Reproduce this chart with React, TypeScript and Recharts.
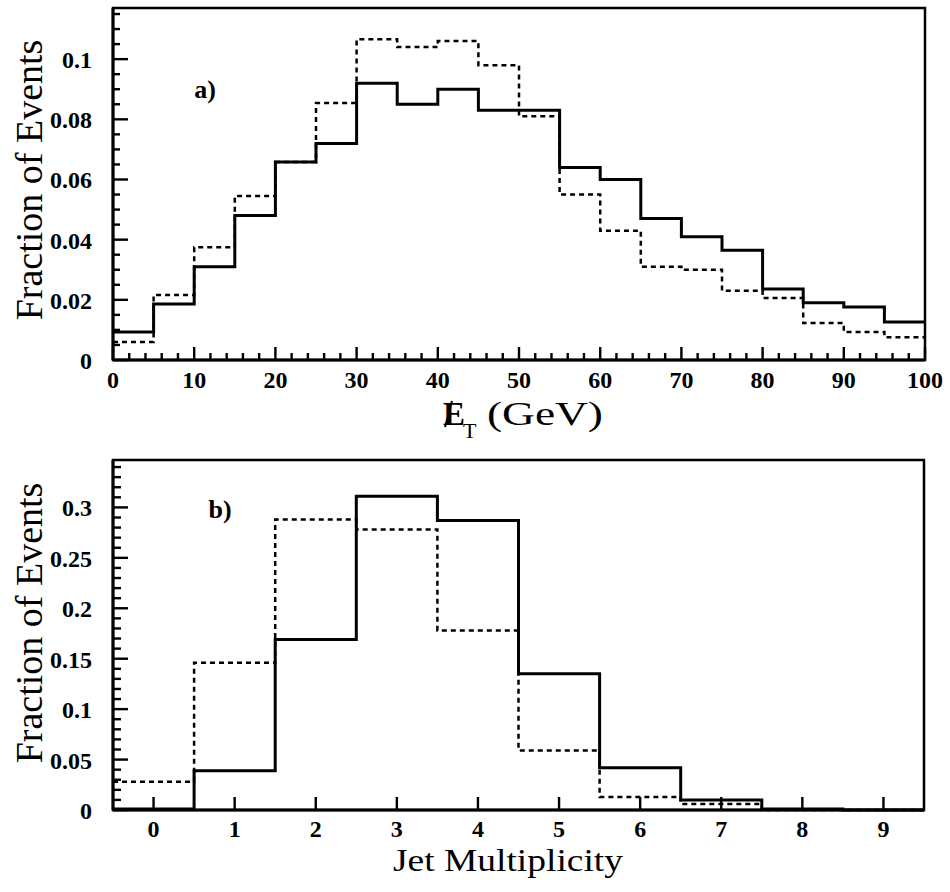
import React from 'react';
import { LineChart, Line, XAxis, YAxis, ReferenceArea } from 'recharts';

// ---------- Panel a) : missing ET ----------
const etBinLow = [0, 5, 10, 15, 20, 25, 30, 35, 40, 45, 50, 55, 60, 65, 70, 75, 80, 85, 90, 95];
const etBinHighLast = 100;
const etSolid = [0.0093, 0.0186, 0.031, 0.048, 0.0658, 0.072, 0.092, 0.085, 0.09, 0.083, 0.083, 0.064, 0.06, 0.047, 0.041, 0.0365, 0.0236, 0.019, 0.0176, 0.0126];
const etDashed = [0.006, 0.0216, 0.0375, 0.0545, 0.0658, 0.0854, 0.1066, 0.104, 0.106, 0.098, 0.081, 0.055, 0.043, 0.031, 0.03, 0.023, 0.0206, 0.0123, 0.0093, 0.0076];
const etXMajor = [0, 10, 20, 30, 40, 50, 60, 70, 80, 90, 100];
const etXMajorLabels = ['0', '10', '20', '30', '40', '50', '60', '70', '80', '90', '100'];
const etYMajor = [0, 0.02, 0.04, 0.06, 0.08, 0.1];
const etYMajorLabels = ['0', '0.02', '0.04', '0.06', '0.08', '0.1'];
const etXDomain = [0, 100];
const etYMax = 0.117;

// ---------- Panel b) : jet multiplicity ----------
const jetBins = [0, 1, 2, 3, 4, 5, 6, 7, 8, 9];
const jetSolid = [0.001, 0.039, 0.169, 0.311, 0.287, 0.135, 0.042, 0.01, 0.001, 0];
const jetDashed = [0.028, 0.146, 0.288, 0.278, 0.178, 0.059, 0.013, 0.006, 0, 0];
const jetXLabels = ['0', '1', '2', '3', '4', '5', '6', '7', '8', '9'];
const jetYMajor = [0, 0.05, 0.1, 0.15, 0.2, 0.25, 0.3];
const jetYMajorLabels = ['0', '0.05', '0.1', '0.15', '0.2', '0.25', '0.3'];
const jetXDomain = [-0.5, 9.5];
const jetYMax = 0.347;

const FONT = "'Liberation Serif', 'Times New Roman', serif";

const W = 950;
const TOP_H = 445;
const BOT_H = 447;
const AXIS_W = 40;
const AXIS_H = 30;
const topMargin = { top: 8, right: 25, bottom: 55, left: 73 };
const botMargin = { top: 15, right: 26, bottom: 52, left: 73 };

const makeTicks = (start: number, end: number, step: number) => {
  const out: number[] = [];
  const n = Math.round((end - start) / step);
  for (let i = 0; i <= n; i++) out.push(Math.round((start + i * step) * 10000) / 10000);
  return out;
};

const etData = [
  ...etBinLow.map((x, i) => ({ x, solid: etSolid[i], dashed: etDashed[i] })),
  { x: etBinHighLast, solid: etSolid[etSolid.length - 1], dashed: etDashed[etDashed.length - 1] },
];
const jetData = [
  ...jetBins.map((b, i) => ({ x: b - 0.5, solid: jetSolid[i], dashed: jetDashed[i] })),
  { x: jetBins[jetBins.length - 1] + 0.5, solid: jetSolid[jetSolid.length - 1], dashed: jetDashed[jetDashed.length - 1] },
];

const findIdx = (arr: number[], v: number) => arr.findIndex((m) => Math.abs(m - v) < 1e-6);

const TICK_COLOR = '#000';

const makeXTick = (majors: number[], labels: string[], majorLen: number, minorLen: number, dy: number) => (props: any) => {
  const { x, y, payload } = props;
  const idx = findIdx(majors, payload.value);
  const major = idx >= 0;
  const len = major ? majorLen : minorLen;
  return (
    <g>
      <rect x={x - 1.2} y={y - len} width={2.4} height={len} fill={TICK_COLOR} stroke="none" />
      {major && (
        <text x={x} y={y + dy} textAnchor="middle" fontFamily={FONT} fontWeight="bold" fontSize={24} fill="#000" stroke="none">
          {labels[idx]}
        </text>
      )}
    </g>
  );
};

const makeYTick = (majors: number[], labels: string[], majorLen: number, minorLen: number) => (props: any) => {
  const { x, y, payload } = props;
  const idx = findIdx(majors, payload.value);
  const major = idx >= 0;
  const len = major ? majorLen : minorLen;
  return (
    <g>
      <rect x={x} y={y - 1.2} width={len} height={2.4} fill={TICK_COLOR} stroke="none" />
      {major && (
        <text x={x - 21} y={y + 9} textAnchor="end" fontFamily={FONT} fontWeight="bold" fontSize={24} fill="#000" stroke="none">
          {labels[idx]}
        </text>
      )}
    </g>
  );
};

const etXTicks = makeTicks(0, 100, 2);
const etYTicks = makeTicks(0, 0.115, 0.005);
const jetXTicks = jetBins;
const jetYTicks = makeTicks(0, 0.34, 0.01);

const EtXTick = makeXTick(etXMajor, etXMajorLabels, 13, 7, 28);
const EtYTick = makeYTick(etYMajor, etYMajorLabels, 15, 7);
const JetXTick = makeXTick(jetBins, jetXLabels, 13, 13, 27);
const JetYTick = makeYTick(jetYMajor, jetYMajorLabels, 15, 8);

const axisLineStyle = { stroke: '#000', strokeWidth: 3 };

const Overlay = () => (
  <svg width={W} height={TOP_H + BOT_H} style={{ position: 'absolute', left: 0, top: 0, pointerEvents: 'none' }}>
    <text x={42} y={180} transform="rotate(-90, 42, 180)" textAnchor="middle" fontFamily={FONT} fontSize={38} fill="#000">
      Fraction of Events
    </text>
    <text x={42} y={623} transform="rotate(-90, 42, 623)" textAnchor="middle" fontFamily={FONT} fontSize={38} fill="#000">
      Fraction of Events
    </text>
    <text x={205} y={98} textAnchor="middle" fontFamily={FONT} fontWeight="bold" fontSize={26} fill="#000">a)</text>
    <text x={220} y={518} textAnchor="middle" fontFamily={FONT} fontWeight="bold" fontSize={26} fill="#000">b)</text>
    <text x={443} y={425} fontFamily={FONT} fontSize={33} fontWeight="bold" fill="#000">E</text>
    <path d="M445,427L452,401" stroke="#000" strokeWidth={2} fill="none" />
    <text x={463} y={438} fontFamily={FONT} fontSize={22} fill="#000">T</text>
    <text x={487} y={425} fontFamily={FONT} fontSize={33} fill="#000" textLength={116} lengthAdjust="spacingAndGlyphs">
      (GeV)
    </text>
    <text x={393} y={871} fontFamily={FONT} fontSize={31} fill="#000" textLength={230} lengthAdjust="spacingAndGlyphs">
      Jet Multiplicity
    </text>
  </svg>
);

export default function App() {
  return (
    <div style={{ position: 'absolute', left: 0, top: 0, width: W, height: TOP_H + BOT_H, background: '#fff' }}>
      <LineChart width={W} height={TOP_H} data={etData} margin={topMargin}>
        <ReferenceArea x1={etXDomain[0]} x2={etXDomain[1]} y1={0} y2={etYMax} fill="none" stroke="#000" strokeWidth={2.5} ifOverflow="visible" />
        <XAxis
          dataKey="x"
          type="number"
          domain={etXDomain}
          ticks={etXTicks}
          interval={0}
          height={AXIS_H}
          tickSize={0}
          tickMargin={0}
          tickLine={false}
          axisLine={axisLineStyle}
          tick={EtXTick}
        />
        <YAxis
          type="number"
          domain={[0, etYMax]}
          ticks={etYTicks}
          interval={0}
          width={AXIS_W}
          tickSize={0}
          tickMargin={0}
          tickLine={false}
          axisLine={axisLineStyle}
          tick={EtYTick}
        />
        <Line type="stepAfter" dataKey="dashed" stroke="#000" strokeWidth={2.5} strokeDasharray="5 4" dot={false} isAnimationActive={false} />
        <Line type="stepAfter" dataKey="solid" stroke="#000" strokeWidth={3} dot={false} isAnimationActive={false} />
      </LineChart>
      <LineChart width={W} height={BOT_H} data={jetData} margin={botMargin}>
        <ReferenceArea x1={jetXDomain[0]} x2={jetXDomain[1]} y1={0} y2={jetYMax} fill="none" stroke="#000" strokeWidth={2.5} ifOverflow="visible" />
        <XAxis
          dataKey="x"
          type="number"
          domain={jetXDomain}
          ticks={jetXTicks}
          interval={0}
          height={AXIS_H}
          tickSize={0}
          tickMargin={0}
          tickLine={false}
          axisLine={axisLineStyle}
          tick={JetXTick}
        />
        <YAxis
          type="number"
          domain={[0, jetYMax]}
          ticks={jetYTicks}
          interval={0}
          width={AXIS_W}
          tickSize={0}
          tickMargin={0}
          tickLine={false}
          axisLine={axisLineStyle}
          tick={JetYTick}
        />
        <Line type="stepAfter" dataKey="dashed" stroke="#000" strokeWidth={2.5} strokeDasharray="5 4" dot={false} isAnimationActive={false} />
        <Line type="stepAfter" dataKey="solid" stroke="#000" strokeWidth={3} dot={false} isAnimationActive={false} />
      </LineChart>
      <Overlay />
    </div>
  );
}
